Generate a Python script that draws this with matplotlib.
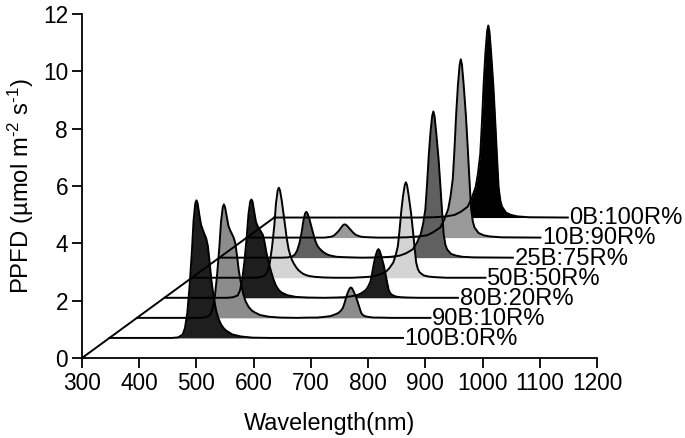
"""Waterfall of LED spectra for the blue:red light treatments."""
import matplotlib

matplotlib.use("Agg")
import matplotlib.pyplot as plt

plt.rcParams["font.family"] = ["Liberation Sans", "DejaVu Sans"]
plt.rcParams["mathtext.default"] = "regular"

# PPFD per wavelength, front series first
wavelength = [300, 410, 420, 428, 432, 436, 440, 444, 447, 450, 452, 454, 457, 460, 463,
              466, 469, 472, 475, 478, 482, 486, 490, 495, 500, 505, 515, 530, 550,
              580, 600, 615, 626, 638, 645, 652, 656, 660, 663, 666, 669, 672, 674,
              676, 679, 683, 686, 689, 692, 695, 698, 705, 714, 725, 745, 813]

b100 = [0, 0, .02, .12, .35, .87, 1.8, 3.0, 4.1, 4.7, 4.8, 4.7, 4.3, 3.95, 3.78,
        3.62, 3.48, 3.2, 2.65, 2.03, 1.45, 1.0, .7, .47, .33, .24, .12, .05, .01,
        0, 0, 0, 0, 0, 0, 0, 0, 0, 0, 0, 0, 0, 0,
        0, 0, 0, 0, 0, 0, 0, 0, 0, 0, 0, 0, 0]
b90 = [0, 0, .02, .1, .29, .71, 1.48, 2.46, 3.36, 3.86, 3.96, 3.86, 3.53, 3.2, 3.05,
       2.93, 2.8, 2.6, 2.15, 1.65, 1.18, .82, .57, .39, .27, .2, .1, .04, .01,
       0, .01, .01, .03, .06, .11, .17, .24, .35, .53, .74, .91, 1.03, 1.06,
       1.03, .91, .72, .54, .35, .17, .1, .06, .03, .01, .01, 0, 0]
b80 = [0, 0, .02, .08, .25, .62, 1.29, 2.15, 2.93, 3.36, 3.43, 3.36, 3.0, 2.65, 2.5,
       2.4, 2.3, 2.2, 1.95, 1.6, 1.25, .95, .68, .42, .27, .18, .09, .03, .01,
       0, .01, .02, .05, .1, .17, .27, .39, .56, .85, 1.19, 1.46, 1.65, 1.7,
       1.65, 1.46, 1.16, .87, .56, .27, .15, .1, .04, .02, .01, 0, 0]
b50 = [0, 0, .02, .08, .2, .5, 1.05, 1.8, 2.6, 3.05, 3.14, 3.05, 2.7, 2.25, 1.8,
       1.35, 1.0, .78, .62, .5, .37, .27, .2, .13, .09, .06, .03, .01, 0,
       0, .02, .04, .1, .19, .33, .53, .77, 1.1, 1.67, 2.33, 2.85, 3.23, 3.33,
       3.23, 2.85, 2.26, 1.7, 1.1, .53, .3, .19, .08, .04, .02, 0, 0]
b25 = [0, 0, .01, .05, .11, .25, .5, .9, 1.3, 1.55, 1.6, 1.55, 1.38, 1.15, .92,
       .7, .52, .4, .32, .26, .19, .14, .1, .07, .05, .03, .02, .01, 0,
       .01, .03, .07, .15, .29, .51, .82, 1.17, 1.68, 2.55, 3.57, 4.37, 4.95, 5.1,
       4.95, 4.37, 3.47, 2.6, 1.68, .82, .46, .29, .13, .07, .03, .01, 0]
b10 = [0, 0, 0, 0, 0, 0, .01, .02, .03, .05, .07, .1, .16, .22, .3,
       .38, .45, .46, .42, .35, .26, .17, .1, .06, .03, .02, .01, 0, 0,
       .01, .04, .08, .19, .35, .62, 1.0, 1.43, 2.05, 3.11, 4.35, 5.33, 6.03, 6.22,
       6.03, 5.33, 4.23, 3.17, 2.05, 1.0, .56, .35, .16, .08, .04, .01, 0]
b0 = [0, 0, 0, 0, 0, 0, 0, 0, 0, 0, 0, 0, 0, 0, 0,
      0, 0, 0, 0, 0, 0, 0, 0, 0, 0, 0, 0, 0, 0,
      .01, .04, .09, .2, .38, .67, 1.07, 1.54, 2.21, 3.35, 4.69, 5.74, 6.5, 6.7,
      6.5, 5.74, 4.56, 3.42, 2.21, 1.07, .6, .38, .17, .09, .04, .01, 0]

spectra = [b100, b90, b80, b50, b25, b10, b0]
labels = ["100B:0R%", "90B:10R%", "80B:20R%", "50B:50R%", "25B:75R%", "10B:90R%", "0B:100R%"]
fills = ["#1e1e1e", "#8c8c8c", "#1e1e1e", "#d4d4d4", "#606060", "#999999", "#000000"]

# shift between neighbouring series in data units
STEP_X = 48.0
STEP_Y = 0.70

fig = plt.figure(figsize=(6.85, 4.38), dpi=100)
ax = fig.add_axes([82 / 685, 80 / 438, 515 / 685, 344 / 438])

# fills back to front, outlines all on top of them
for i in range(len(spectra) - 1, -1, -1):
    dx, dy = STEP_X * (i + 1), STEP_Y * (i + 1)
    xs = [w + dx for w in wavelength]
    ys = [v + dy for v in spectra[i]]
    ax.fill_between(xs, dy, ys, color=fills[i], linewidth=0, zorder=2)

for i, values in enumerate(spectra):
    dx, dy = STEP_X * (i + 1), STEP_Y * (i + 1)
    xs = [w + dx for w in wavelength]
    ys = [v + dy for v in values]
    ax.plot(xs, ys, color="black", linewidth=1.4, zorder=3, solid_joinstyle="round")
    ax.text(xs[-1] + 3, dy - 0.03, labels[i], fontsize=17.1, va="center", ha="left", clip_on=False)

# depth axis
ax.plot([300, 300 + STEP_X * 7], [0, STEP_Y * 7], color="black", linewidth=1.4, zorder=3)

ax.set_xlim(300, 1200)
ax.set_ylim(0, 12)
ax.set_xticks(range(300, 1201, 100))
ax.set_yticks(range(0, 13, 2))
ax.tick_params(labelsize=16.3, width=1.3, length=7, pad=3)
ax.spines["top"].set_visible(False)
ax.spines["right"].set_visible(False)
ax.spines["left"].set_linewidth(1.3)
ax.spines["bottom"].set_linewidth(1.3)
ax.set_xlabel("Wavelength(nm)", fontsize=16.9)
ax.set_ylabel("PPFD (µmol m$^{\u20102}$ s$^{\u20101}$)", fontsize=17.2)
ax.xaxis.set_label_coords(0.4816, -0.157)
ax.yaxis.set_label_coords(-0.09, 0.5)

fig.savefig("out.png", dpi=100)
plt.close(fig)
